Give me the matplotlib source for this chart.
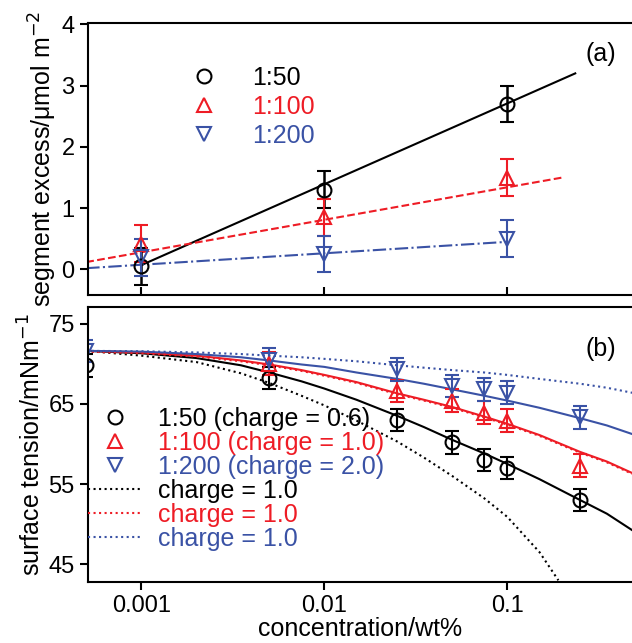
import matplotlib.pyplot as plt
from matplotlib.lines import Line2D

plt.rcParams['font.family'] = ['Liberation Sans', 'DejaVu Sans']

BLACK, RED, BLUE = 'black', '#ee1c25', '#3a52a5'

# panel (a): segment excess
xa = [0.001, 0.01, 0.1]
ya_50 = [0.05, 1.3, 2.7]
ya_100 = [0.42, 0.85, 1.5]
ya_200 = [0.2, 0.25, 0.5]
err_a = [0.3, 0.3, 0.3]
fit_a50_x, fit_a50_y = [0.001, 0.235], [0.07, 3.2]
fit_a100_x, fit_a100_y = [0.0005, 0.2], [0.12, 1.5]
fit_a200_x, fit_a200_y = [0.0005, 0.1], [0.02, 0.45]

# panel (b): surface tension
xb_50 = [0.0005, 0.005, 0.025, 0.05, 0.075, 0.1, 0.25]
yb_50 = [69.8, 68.2, 63.0, 60.2, 58.0, 57.0, 53.0]
xb_100 = [0.005, 0.025, 0.05, 0.075, 0.1, 0.25]
yb_100 = [70.0, 66.6, 65.4, 63.9, 62.9, 57.3]
xb_200 = [0.0005, 0.005, 0.025, 0.05, 0.075, 0.1, 0.25]
yb_200 = [71.6, 70.5, 69.3, 67.2, 66.8, 66.4, 63.3]
err_b = 1.4

cx = [0.0005, 0.001, 0.002, 0.0035, 0.005, 0.0075, 0.01, 0.015, 0.025, 0.035,
      0.05, 0.075, 0.1, 0.15, 0.25, 0.35, 0.5]
c50 = [71.6, 71.3, 70.7, 69.8, 68.9, 67.8, 66.9, 65.5, 63.5, 62.1,
       60.5, 58.8, 57.5, 55.6, 53.0, 51.3, 49.0]
c100 = [71.6, 71.4, 71.0, 70.4, 69.9, 69.2, 68.6, 67.7, 66.3, 65.5,
        64.6, 63.4, 62.5, 61.1, 59.0, 57.8, 56.2]
c200 = [71.6, 71.5, 71.2, 70.8, 70.4, 69.9, 69.6, 68.9, 68.1, 67.5,
        66.8, 66.0, 65.4, 64.5, 63.2, 62.3, 61.1]
d100 = [v - 0.1 for v in c100]
d200 = [71.6, 71.55, 71.4, 71.2, 71.0, 70.8, 70.6, 70.3, 69.8, 69.5,
        69.2, 68.9, 68.6, 68.1, 67.5, 67.0, 66.3]
dx50 = [0.0005, 0.001, 0.002, 0.0035, 0.005, 0.0075, 0.01, 0.015, 0.025, 0.035,
        0.05, 0.075, 0.1, 0.15, 0.19]
d50 = [71.6, 71.0, 70.2, 68.8, 67.6, 66.0, 64.8, 62.9, 60.3, 58.3,
       56.0, 53.2, 50.9, 46.5, 43.0]

fig = plt.figure(figsize=(6.32, 6.43), dpi=100)
ax1 = fig.add_axes([0.139, 0.541, 0.861, 0.423])
ax2 = fig.add_axes([0.139, 0.095, 0.861, 0.428])

ms = 10
ax1.plot(fit_a50_x, fit_a50_y, color=BLACK, lw=1.5)
ax1.plot(fit_a100_x, fit_a100_y, color=RED, lw=1.5, ls='--')
ax1.plot(fit_a200_x, fit_a200_y, color=BLUE, lw=1.5, ls='-.')
ax1.errorbar(xa, ya_50, yerr=err_a, fmt='o', color=BLACK, mfc='none', ms=ms, mew=1.5, capsize=5, elinewidth=1.8, capthick=1.8)
ax1.errorbar(xa, ya_100, yerr=err_a, fmt='^', color=RED, mfc='none', ms=ms, mew=1.5, capsize=5)
ax1.errorbar(xa, ya_200, yerr=err_a, fmt='v', color=BLUE, mfc='none', ms=ms, mew=1.5, capsize=5)

ax2.plot(cx, c50, color=BLACK, lw=1.5)
ax2.plot(cx, c100, color=RED, lw=1.5)
ax2.plot(cx, c200, color=BLUE, lw=1.5)
ax2.plot(dx50, d50, color=BLACK, lw=1.5, ls=':')
ax2.plot(cx, d100, color=RED, lw=1.5, ls=':')
ax2.plot(cx, d200, color=BLUE, lw=1.5, ls=':')
ax2.errorbar(xb_50, yb_50, yerr=err_b, fmt='o', color=BLACK, mfc='none', ms=ms, mew=1.5, capsize=5)
ax2.errorbar(xb_100, yb_100, yerr=err_b, fmt='^', color=RED, mfc='none', ms=ms, mew=1.5, capsize=5)
ax2.errorbar(xb_200, yb_200, yerr=err_b, fmt='v', color=BLUE, mfc='none', ms=ms, mew=1.5, capsize=5)

for ax in (ax1, ax2):
    ax.set_xscale('log')
    ax.set_xlim(0.00051, 0.48)
    ax.set_xticks([0.001, 0.01, 0.1])
    ax.minorticks_off()
    ax.spines['right'].set_visible(False)
    for s in ax.spines.values():
        s.set_linewidth(1.5)
    ax.tick_params(labelsize=17, width=1.5, length=6)

ax1.set_ylim(-0.42, 4.02)
ax1.set_yticks([0, 1, 2, 3, 4])
ax1.tick_params(axis='x', direction='in', labelbottom=False)
ax1.set_ylabel('segment excess/\u03bcmol m$^{-2}$', fontsize=18, labelpad=2)
ax1.text(0.97, 0.86, '(a)', transform=ax1.transAxes, fontsize=18, ha='right')

ax2.set_ylim(42.8, 77.1)
ax2.set_yticks([45, 55, 65, 75])
ax2.set_xticklabels(['0.001', '0.01', '0.1'])
ax2.set_ylabel('surface tension/mNm$^{-1}$', fontsize=18, labelpad=2)
ax2.set_xlabel('concentration/wt%', fontsize=18, labelpad=0)
ax2.text(0.97, 0.82, '(b)', transform=ax2.transAxes, fontsize=18, ha='right')

def mk(m, c):
    return Line2D([], [], marker=m, ls='none', color=c, mfc='none', ms=ms, mew=1.5)

leg1 = ax1.legend([mk('o', BLACK), mk('^', RED), mk('v', BLUE)], ['1:50', '1:100', '1:200'],
                  loc='upper left', bbox_to_anchor=(0.15, 0.88), frameon=False, fontsize=18,
                  handletextpad=0.9, labelspacing=0.2, borderaxespad=0)
for t, c in zip(leg1.get_texts(), [BLACK, RED, BLUE]):
    t.set_color(c)

h2 = [mk('o', BLACK), mk('^', RED), mk('v', BLUE),
      Line2D([], [], color=BLACK, ls=':', lw=1.5), Line2D([], [], color=RED, ls=':', lw=1.5),
      Line2D([], [], color=BLUE, ls=':', lw=1.5)]
l2 = ['1:50 (charge = 0.6)', '1:100 (charge = 1.0)', '1:200 (charge = 2.0)',
      'charge = 1.0', 'charge = 1.0', 'charge = 1.0']
leg2 = ax2.legend(h2, l2, loc='upper left', bbox_to_anchor=(0.0, 0.635), frameon=False, fontsize=18,
                  handlelength=2.2, handletextpad=0.6, labelspacing=0.0, borderaxespad=0, borderpad=0)
for t, c in zip(leg2.get_texts(), [BLACK, RED, BLUE] * 2):
    t.set_color(c)

fig.savefig('out.png', dpi=100)
